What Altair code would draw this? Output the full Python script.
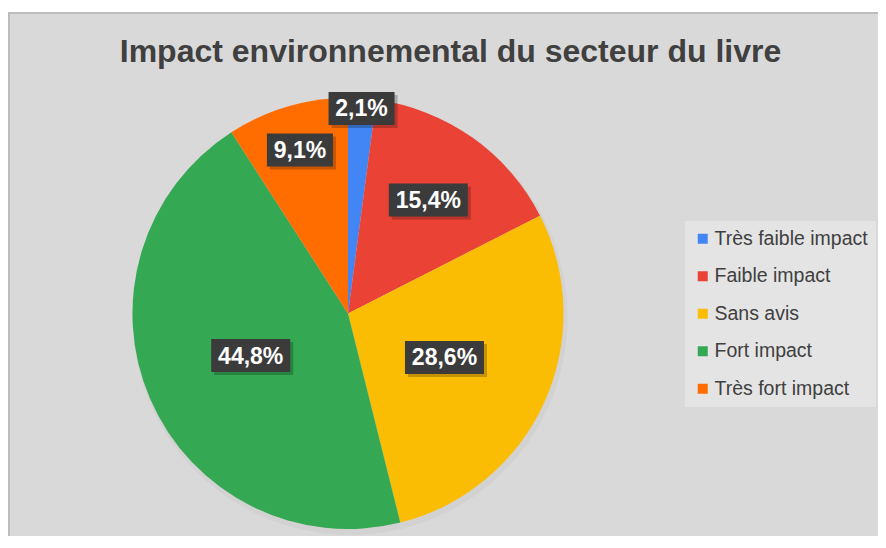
import altair as alt
import pandas as pd

categories = ["Très faible impact", "Faible impact", "Sans avis", "Fort impact", "Très fort impact"]
values = [2.1, 15.4, 28.6, 44.8, 9.1]
colors = ["#4285f4", "#ea4335", "#fbbc04", "#34a853", "#ff6d01"]
title_text = "Impact environnemental du secteur du livre"

df = pd.DataFrame({"cat": categories, "value": values, "idx": list(range(len(values)))})

W, H = 869, 523
CX, CY, R = 339, 300.5, 215.5

base = alt.Chart(df)

frame = alt.Chart(pd.DataFrame({"k": [0]}))
bg = frame.mark_rect(color="#d9d9d9", stroke="#bdbdbd", strokeWidth=2).encode(
    x=alt.value(0), x2=alt.value(W + 10), y=alt.value(0), y2=alt.value(H + 10)
)

shadow = base.mark_arc(outerRadius=R + 2, color="#cfcfcf", opacity=0.8).encode(
    theta=alt.Theta("value:Q", stack=True),
    x=alt.value(CX + 2), y=alt.value(CY + 4),
)

pie = base.mark_arc(outerRadius=R).encode(
    theta=alt.Theta("value:Q", stack=True),
    order=alt.Order("idx:Q"),
    color=alt.Color(
        "cat:N",
        scale=alt.Scale(domain=categories, range=colors),
        sort=categories,
        legend=alt.Legend(
            title=None, orient="none", legendX=676, legendY=208,
            fillColor="#e4e4e4", padding=8, symbolType="square", symbolSize=100,
            symbolStrokeWidth=0, labelFontSize=19.5, labelFont="Liberation Sans",
            labelColor="#404040", rowPadding=16.5, labelOffset=2,
            labelLimit=400,
        ),
    ),
    x=alt.value(CX), y=alt.value(CY),
)

lab = base.transform_joinaggregate(total="sum(value)").transform_window(
    cum="sum(value)", sort=[alt.SortField("idx")], frame=[None, 0]
).transform_calculate(
    mid="(datum.cum - datum.value/2)/datum.total*2*PI",
    r="max(106, 216 - 500*datum.value/datum.total)",
).transform_calculate(
    lx=f"{CX} + datum.r*sin(datum.mid)",
    ly=f"{CY} - datum.r*cos(datum.mid)",
    label="replace(format(datum.value, '.1f'), '.', ',') + '%'",
).transform_calculate(
    hw="(14 + 13*length(datum.label))/2",
).transform_calculate(
    x1="datum.lx - datum.hw", x2="datum.lx + datum.hw",
    y1="datum.ly - 16.5", y2="datum.ly + 16.5",
    sx1="datum.lx - datum.hw + 3", sx2="datum.lx + datum.hw + 3",
    sy1="datum.ly - 16.5 + 3", sy2="datum.ly + 16.5 + 3",
)

box_shadow = lab.mark_rect(color="#000000", opacity=0.22).encode(
    x=alt.X("sx1:Q", scale=None), x2="sx2:Q",
    y=alt.Y("sy1:Q", scale=None), y2="sy2:Q",
)
boxes = lab.mark_rect(color="#3b3b3b").encode(
    x=alt.X("x1:Q", scale=None), x2="x2:Q",
    y=alt.Y("y1:Q", scale=None), y2="y2:Q",
)
texts = lab.mark_text(
    font="Liberation Sans", fontSize=23, fontWeight="bold", color="white",
    align="center", baseline="middle", dy=1,
).encode(
    x=alt.X("lx:Q", scale=None), y=alt.Y("ly:Q", scale=None), text="label:N",
)

title = alt.Chart(pd.DataFrame({"t": [title_text]})).mark_text(
    font="Liberation Sans", fontSize=32, fontWeight="bold", color="#404040",
    align="center", baseline="alphabetic",
).encode(x=alt.value(441.5), y=alt.value(49), text="t:N")

chart = alt.layer(
    bg, shadow, pie, box_shadow, boxes, texts, title
).properties(
    width=W, height=H,
    autosize=alt.AutoSizeParams(type="none"),
    padding={"left": 1, "top": 5, "right": 0, "bottom": 0},
    background="white",
).configure_view(
    fill=None, stroke=None,
)

chart.save("out.html", embed_options={"renderer": "svg", "actions": False})
